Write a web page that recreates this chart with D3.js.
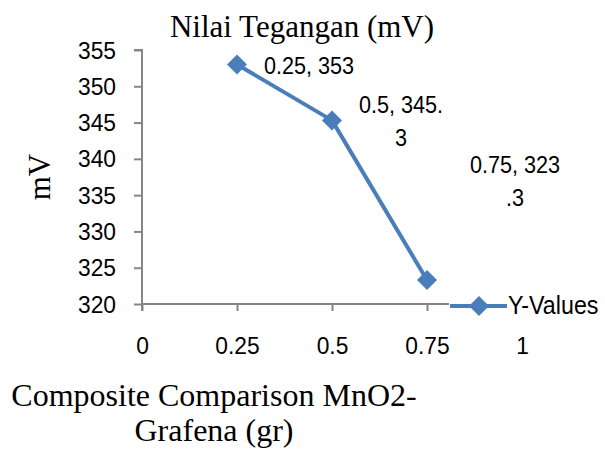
<!DOCTYPE html>
<html>
<head>
<meta charset="utf-8">
<script src="https://cdn.jsdelivr.net/npm/d3@7"></script>
<style>
  body { margin:0; background:#fff; }
  svg { display:block; }
  .sans { font-family: "Liberation Sans", Arial, sans-serif; fill:#000; }
  .serif { font-family: "Liberation Serif", "Times New Roman", serif; fill:#000; }
</style>
</head>
<body>
<div id="chart"></div>
<script>
// chart data
const xValues = [0.25, 0.5, 0.75]
const yValues = [353, 345.3, 323.3]
const xTicks = [0, 0.25, 0.5, 0.75, 1]
const yTicks = [320, 325, 330, 335, 340, 345, 350, 355]
const seriesName = "Y-Values"
const chartTitle = "Nilai Tegangan (mV)"
const yTitle = "mV"
const xTitleLines = ["Composite Comparison MnO2-", "Grafena (gr)"]

function render(){
  let width = 605, height = 450
  let blue = "#4a7ebb", axisGray = "#868686"
  let squish = 0.9   // the original uses a narrow sans font

  let svg = d3.select("#chart").append("svg")
    .attr("width", width).attr("height", height)

  let xScale = d3.scaleLinear().domain([0, 1]).range([142, 522])
  let yScale = d3.scaleLinear().domain([320, 355]).range([304, 50])

  let data = xValues.map((x, i) => ({x: x, y: yValues[i]}))

  // axes
  let xAxis = d3.axisBottom(xScale).tickValues(xTicks).tickSize(7)
    .tickFormat(d => String(d))
  let yAxis = d3.axisLeft(yScale).tickValues(yTicks).tickSize(8)

  let xGroup = svg.append("g").attr("transform", `translate(0,${yScale(320)})`).call(xAxis)
  let yGroup = svg.append("g").attr("transform", `translate(${xScale(0)},0)`).call(yAxis)

  ;[xGroup, yGroup].forEach(g => {
    g.select(".domain").attr("stroke", axisGray).attr("stroke-width", 2)
    g.selectAll(".tick line").attr("stroke", axisGray).attr("stroke-width", 2)
    g.selectAll(".tick text").attr("class", "sans").style("font-size", "24px")
      .attr("fill", "#000")
  })
  xGroup.select(".domain").attr("d", `M${xScale(0)},7V0H${xScale(1)}`)
  yGroup.select(".domain").attr("d", `M-8,${yScale(355)}H0V${yScale(320)}`)
  xGroup.selectAll(".tick text").attr("y", 0).attr("dy", 0)
    .attr("transform", `translate(0,50) scale(0.95,1)`)
  yGroup.selectAll(".tick text").attr("x", 0).attr("dy", 0)
    .attr("transform", `translate(-26,8) scale(0.95,1)`)

  // series line
  let line = d3.line().x(d => xScale(d.x)).y(d => yScale(d.y))
  svg.append("path")
    .attr("d", line(data))
    .attr("fill", "none")
    .attr("stroke", blue)
    .attr("stroke-width", 4)
    .attr("stroke-linejoin", "round")

  let diamond = d3.symbol().type(d3.symbolSquare).size(200)
  svg.selectAll(".marker")
    .data(data)
    .enter()
    .append("path")
    .attr("class", "marker")
    .attr("d", diamond)
    .attr("transform", d => `translate(${xScale(d.x)},${yScale(d.y)}) rotate(45)`)
    .attr("fill", blue)

  // data labels, wrapped at 9 characters like the original
  let labelShift = [[0, 0], [0, 0], [16, -100]]
  data.forEach((d, i) => {
    let txt = `${d.x}, ${d.y}`
    let lines = []
    for (let k = 0; k < txt.length; k += 9) lines.push(txt.slice(k, k + 9))
    let lineH = 33
    let cy = yScale(d.y) + labelShift[i][1]
    let first = cy - (lines.length - 1) * lineH / 2 + 9
    let g = svg.append("g")
    let t = g.append("text").attr("class", "sans").style("font-size", "24px")
      .attr("text-anchor", "middle")
    let spans = lines.map((l, j) => t.append("tspan").attr("x", 0).attr("y", j * lineH).text(l))
    let maxW = d3.max(spans, s => s.node().getComputedTextLength()) * squish
    g.attr("transform", `translate(${xScale(d.x) + 27 + labelShift[i][0] + maxW / 2},${first}) scale(${squish},1)`)
  })

  // legend
  let lg = svg.append("g").attr("transform", "translate(450,306)")
  lg.append("rect").attr("x", -1).attr("y", -12).attr("width", 160).attr("height", 24).attr("fill", "#fff")
  lg.append("line").attr("x1", 0).attr("x2", 57).attr("y1", 0).attr("y2", 0)
    .attr("stroke", blue).attr("stroke-width", 4)
  lg.append("path").attr("d", diamond).attr("transform", "translate(29,0) rotate(45)").attr("fill", blue)
  lg.append("text").attr("class", "sans").style("font-size", "25px")
    .attr("transform", "translate(58,8) scale(0.93,1)").text(seriesName)

  // titles
  svg.append("text").attr("class", "serif").style("font-size", "31px")
    .attr("text-anchor", "middle").attr("x", 302).attr("y", 37).text(chartTitle)

  svg.append("text").attr("class", "serif").style("font-size", "31px")
    .attr("text-anchor", "middle")
    .attr("transform", "translate(50,177) rotate(-90)").text(yTitle)

  svg.append("text").attr("class", "serif").style("font-size", "32px")
    .attr("text-anchor", "middle")
    .selectAll("tspan").data(xTitleLines).enter().append("tspan")
    .attr("x", 214).attr("y", (d, i) => 406 + i * 35).text(d => d)
}

render()
</script>
</body>
</html>
